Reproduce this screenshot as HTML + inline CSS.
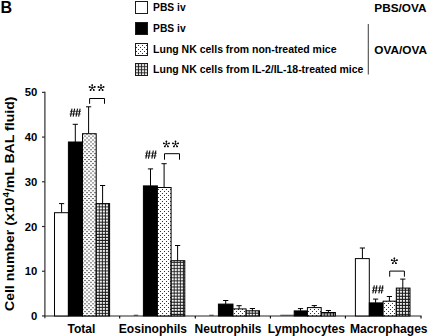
<!DOCTYPE html>
<html><head><meta charset="utf-8"><style>
html,body{margin:0;padding:0;background:#fff;width:430px;height:336px;overflow:hidden}
svg{display:block}
text{font-family:"Liberation Sans",sans-serif;font-weight:bold;fill:#000}
</style></head><body>
<svg width="430" height="336" viewBox="0 0 430 336">
<defs>
<pattern id="dots" patternUnits="userSpaceOnUse" width="4" height="3.9" x="0" y="3.0">
<rect width="4" height="4" fill="#fff"/>
<ellipse cx="1" cy="0.5" rx="0.95" ry="0.75" fill="#555"/>
<ellipse cx="3" cy="2.45" rx="0.95" ry="0.75" fill="#555"/>
</pattern>
<pattern id="dotsB" patternUnits="userSpaceOnUse" width="4" height="4" x="0" y="0">
<rect width="4" height="4" fill="#fff"/>
<rect x="0" y="3" width="1" height="1" fill="#333"/>
<rect x="2" y="1" width="1" height="1" fill="#333"/>
</pattern>
<pattern id="grid0" patternUnits="userSpaceOnUse" width="3.08" height="3.05" x="95.80" y="-0.80"><rect width="3.08" height="3.05" fill="#1a1a1a"/><rect x="0.85" y="0.8" width="2.1" height="2.0" fill="#fff"/></pattern>
<pattern id="grid1" patternUnits="userSpaceOnUse" width="3.08" height="3.05" x="170.70" y="0.00"><rect width="3.08" height="3.05" fill="#1a1a1a"/><rect x="0.85" y="0.8" width="2.1" height="2.0" fill="#fff"/></pattern>
<pattern id="grid2" patternUnits="userSpaceOnUse" width="3.08" height="3.05" x="245.70" y="1.80"><rect width="3.08" height="3.05" fill="#1a1a1a"/><rect x="0.85" y="0.8" width="2.1" height="2.0" fill="#fff"/></pattern>
<pattern id="grid3" patternUnits="userSpaceOnUse" width="3.08" height="3.05" x="320.80" y="2.50"><rect width="3.08" height="3.05" fill="#1a1a1a"/><rect x="0.85" y="0.8" width="2.1" height="2.0" fill="#fff"/></pattern>
<pattern id="grid4" patternUnits="userSpaceOnUse" width="3.08" height="3.05" x="395.90" y="3.20"><rect width="3.08" height="3.05" fill="#1a1a1a"/><rect x="0.85" y="0.8" width="2.1" height="2.0" fill="#fff"/></pattern>
</defs>
<text x="0.6" y="13.4" font-size="16.1">B</text>
<defs><pattern id="gridL" patternUnits="userSpaceOnUse" width="3.08" height="3.05" x="135.1" y="63.4"><rect width="3.08" height="3.05" fill="#1a1a1a"/><rect x="0.85" y="0.8" width="2.1" height="2.0" fill="#fff"/></pattern></defs>
<rect x="135.5" y="1.5" width="12" height="12" fill="#fff" stroke="#1a1a1a" stroke-width="1"/>
<text x="153.1" y="10.8" font-size="10.0" textLength="32.5" lengthAdjust="spacingAndGlyphs">PBS iv</text>
<rect x="135.5" y="22.5" width="12" height="12" fill="#000" stroke="#1a1a1a" stroke-width="1"/>
<text x="153.1" y="31.9" font-size="10.0" textLength="32.5" lengthAdjust="spacingAndGlyphs">PBS iv</text>
<rect x="135.5" y="43.5" width="12" height="12" fill="url(#dotsB)" stroke="#1a1a1a" stroke-width="1"/>
<text x="153.1" y="52.9" font-size="10.0" textLength="183.4" lengthAdjust="spacingAndGlyphs">Lung NK cells from non-treated mice</text>
<rect x="135.5" y="63.5" width="12" height="12" fill="url(#gridL)" stroke="#1a1a1a" stroke-width="1"/>
<text x="153.1" y="73.1" font-size="10.0" textLength="210.3" lengthAdjust="spacingAndGlyphs">Lung NK cells from IL-2/IL-18-treated mice</text>
<text x="374.3" y="12.2" font-size="11.8">PBS/OVA</text>
<text x="374.3" y="54.2" font-size="11.8">OVA/OVA</text>
<line x1="368.3" y1="24" x2="368.3" y2="74.4" stroke="#444" stroke-width="1.05"/>
<line x1="44.9" y1="91.8" x2="44.9" y2="318.34999999999997" stroke="#262626" stroke-width="1.15"/>
<line x1="44.4" y1="315.95" x2="421.5" y2="315.95" stroke="#262626" stroke-width="1.15"/>
<line x1="42" y1="315.95" x2="44.9" y2="315.95" stroke="#262626" stroke-width="1.15"/>
<text x="37.3" y="320.05" font-size="11.3" text-anchor="end">0</text>
<line x1="42" y1="271.23" x2="44.9" y2="271.23" stroke="#262626" stroke-width="1.15"/>
<text x="37.3" y="275.33" font-size="11.3" text-anchor="end">10</text>
<line x1="42" y1="226.51" x2="44.9" y2="226.51" stroke="#262626" stroke-width="1.15"/>
<text x="37.3" y="230.61" font-size="11.3" text-anchor="end">20</text>
<line x1="42" y1="181.79" x2="44.9" y2="181.79" stroke="#262626" stroke-width="1.15"/>
<text x="37.3" y="185.89" font-size="11.3" text-anchor="end">30</text>
<line x1="42" y1="137.07" x2="44.9" y2="137.07" stroke="#262626" stroke-width="1.15"/>
<text x="37.3" y="141.17" font-size="11.3" text-anchor="end">40</text>
<line x1="42" y1="92.35" x2="44.9" y2="92.35" stroke="#262626" stroke-width="1.15"/>
<text x="37.3" y="96.45" font-size="11.3" text-anchor="end">50</text>
<line x1="119.7" y1="315.95" x2="119.7" y2="318.55" stroke="#000" stroke-width="1.1"/>
<line x1="195.3" y1="315.95" x2="195.3" y2="318.55" stroke="#000" stroke-width="1.1"/>
<line x1="270.4" y1="315.95" x2="270.4" y2="318.55" stroke="#000" stroke-width="1.1"/>
<line x1="345.4" y1="315.95" x2="345.4" y2="318.55" stroke="#000" stroke-width="1.1"/>
<line x1="421.0" y1="315.95" x2="421.0" y2="318.55" stroke="#000" stroke-width="1.1"/>
<line x1="61.6" y1="212.7" x2="61.6" y2="203.6" stroke="#000" stroke-width="1"/>
<line x1="59.00" y1="203.6" x2="64.20" y2="203.6" stroke="#000" stroke-width="1"/>
<rect x="54.50" y="212.70" width="13.90" height="103.25" fill="#fff" stroke="#000" stroke-width="1"/>
<line x1="75.3" y1="142.0" x2="75.3" y2="124.3" stroke="#000" stroke-width="1"/>
<line x1="72.70" y1="124.3" x2="77.90" y2="124.3" stroke="#000" stroke-width="1"/>
<rect x="68.40" y="142.00" width="14.10" height="173.95" fill="#000" stroke="#000" stroke-width="1"/>
<line x1="88.6" y1="133.7" x2="88.6" y2="106.8" stroke="#000" stroke-width="1"/>
<line x1="86.00" y1="106.8" x2="91.20" y2="106.8" stroke="#000" stroke-width="1"/>
<rect x="82.50" y="133.70" width="13.70" height="182.25" fill="url(#dots)" stroke="#000" stroke-width="1"/>
<line x1="102.6" y1="203.6" x2="102.6" y2="185.5" stroke="#000" stroke-width="1"/>
<line x1="100.00" y1="185.5" x2="105.20" y2="185.5" stroke="#000" stroke-width="1"/>
<rect x="96.20" y="203.60" width="13.40" height="112.35" fill="url(#grid0)" stroke="#000" stroke-width="1"/>
<line x1="133.8" y1="315.2" x2="138.2" y2="315.2" stroke="#000" stroke-width="0.9" opacity="0.75"/>
<line x1="150.5" y1="185.9" x2="150.5" y2="168.9" stroke="#000" stroke-width="1"/>
<line x1="147.90" y1="168.9" x2="153.10" y2="168.9" stroke="#000" stroke-width="1"/>
<rect x="143.40" y="185.90" width="14.00" height="130.05" fill="#000" stroke="#000" stroke-width="1"/>
<line x1="164.1" y1="187.5" x2="164.1" y2="163.7" stroke="#000" stroke-width="1"/>
<line x1="161.50" y1="163.7" x2="166.70" y2="163.7" stroke="#000" stroke-width="1"/>
<rect x="157.40" y="187.50" width="13.70" height="128.45" fill="url(#dotsB)" stroke="#000" stroke-width="1"/>
<line x1="177.6" y1="260.7" x2="177.6" y2="245.5" stroke="#000" stroke-width="1"/>
<line x1="175.00" y1="245.5" x2="180.20" y2="245.5" stroke="#000" stroke-width="1"/>
<rect x="171.10" y="260.70" width="13.70" height="55.25" fill="url(#grid1)" stroke="#000" stroke-width="1"/>
<line x1="209.3" y1="315.2" x2="213.7" y2="315.2" stroke="#000" stroke-width="0.9" opacity="0.75"/>
<line x1="225.7" y1="304.1" x2="225.7" y2="300.5" stroke="#000" stroke-width="1"/>
<line x1="223.10" y1="300.5" x2="228.30" y2="300.5" stroke="#000" stroke-width="1"/>
<rect x="218.40" y="304.10" width="14.60" height="11.85" fill="#000" stroke="#000" stroke-width="1"/>
<line x1="239.1" y1="308.9" x2="239.1" y2="305.7" stroke="#000" stroke-width="1"/>
<line x1="236.50" y1="305.7" x2="241.70" y2="305.7" stroke="#000" stroke-width="1"/>
<rect x="233.00" y="308.90" width="13.10" height="7.05" fill="url(#dotsB)" stroke="#000" stroke-width="1"/>
<line x1="252.4" y1="310.8" x2="252.4" y2="308.5" stroke="#000" stroke-width="1"/>
<line x1="249.80" y1="308.5" x2="255.00" y2="308.5" stroke="#000" stroke-width="1"/>
<rect x="246.10" y="310.80" width="13.40" height="5.15" fill="url(#grid2)" stroke="#000" stroke-width="1"/>
<line x1="280.30" y1="315.2" x2="294.20" y2="315.2" stroke="#000" stroke-width="0.9" opacity="0.7"/>
<line x1="300.5" y1="310.9" x2="300.5" y2="308.6" stroke="#000" stroke-width="1"/>
<line x1="297.90" y1="308.6" x2="303.10" y2="308.6" stroke="#000" stroke-width="1"/>
<rect x="294.20" y="310.90" width="13.20" height="5.05" fill="#000" stroke="#000" stroke-width="1"/>
<line x1="314.3" y1="307.6" x2="314.3" y2="305.6" stroke="#000" stroke-width="1"/>
<line x1="311.70" y1="305.6" x2="316.90" y2="305.6" stroke="#000" stroke-width="1"/>
<rect x="307.40" y="307.60" width="13.80" height="8.35" fill="url(#dotsB)" stroke="#000" stroke-width="1"/>
<line x1="328.4" y1="312.5" x2="328.4" y2="310.5" stroke="#000" stroke-width="1"/>
<line x1="325.80" y1="310.5" x2="331.00" y2="310.5" stroke="#000" stroke-width="1"/>
<rect x="321.20" y="312.50" width="14.20" height="3.45" fill="url(#grid3)" stroke="#000" stroke-width="1"/>
<line x1="362.4" y1="258.6" x2="362.4" y2="248.0" stroke="#000" stroke-width="1"/>
<line x1="359.80" y1="248.0" x2="365.00" y2="248.0" stroke="#000" stroke-width="1"/>
<rect x="355.40" y="258.60" width="13.90" height="57.35" fill="#fff" stroke="#000" stroke-width="1"/>
<line x1="375.6" y1="302.9" x2="375.6" y2="299.1" stroke="#000" stroke-width="1"/>
<line x1="373.00" y1="299.1" x2="378.20" y2="299.1" stroke="#000" stroke-width="1"/>
<rect x="369.30" y="302.90" width="13.80" height="13.05" fill="#000" stroke="#000" stroke-width="1"/>
<line x1="389.4" y1="301.2" x2="389.4" y2="296.5" stroke="#000" stroke-width="1"/>
<line x1="386.80" y1="296.5" x2="392.00" y2="296.5" stroke="#000" stroke-width="1"/>
<rect x="383.10" y="301.20" width="13.20" height="14.75" fill="url(#dotsB)" stroke="#000" stroke-width="1"/>
<line x1="402.8" y1="288.1" x2="402.8" y2="279.1" stroke="#000" stroke-width="1"/>
<line x1="400.20" y1="279.1" x2="405.40" y2="279.1" stroke="#000" stroke-width="1"/>
<rect x="396.30" y="288.10" width="13.70" height="27.85" fill="url(#grid4)" stroke="#000" stroke-width="1"/>
<text x="67.5" y="332.5" font-size="12.05">Total</text>
<text x="118.8" y="332.5" font-size="12.05">Eosinophils</text>
<text x="194.6" y="332.5" font-size="12.05">Neutrophils</text>
<text x="267.8" y="332.5" font-size="12.05">Lymphocytes</text>
<text x="349.9" y="332.5" font-size="12.05">Macrophages</text>
<path d="M72.00 108.70 L70.55 116.70 M74.60 108.70 L73.15 116.70 M77.50 108.70 L76.05 116.70 M80.10 108.70 L78.65 116.70 " stroke="#000" stroke-width="1.05" fill="none"/>
<path d="M70.00 111.34 H75.50 M69.60 113.98 H75.10 M75.50 111.34 H81.00 M75.10 113.98 H80.60 " stroke="#222" stroke-width="0.85" fill="none"/>
<path d="M92.20 87.80 L92.20 84.95 M92.20 87.80 L94.91 86.92 M92.20 87.80 L93.88 90.11 M92.20 87.80 L90.52 90.11 M92.20 87.80 L89.49 86.92 " stroke="#000" stroke-width="0.75" stroke-linecap="round" fill="none"/>
<circle cx="92.20" cy="85.10" r="0.9"/>
<circle cx="94.77" cy="86.97" r="0.9"/>
<circle cx="93.79" cy="89.98" r="0.9"/>
<circle cx="90.61" cy="89.98" r="0.9"/>
<circle cx="89.63" cy="86.97" r="0.9"/>
<path d="M101.00 87.80 L101.00 84.95 M101.00 87.80 L103.71 86.92 M101.00 87.80 L102.68 90.11 M101.00 87.80 L99.32 90.11 M101.00 87.80 L98.29 86.92 " stroke="#000" stroke-width="0.75" stroke-linecap="round" fill="none"/>
<circle cx="101.00" cy="85.10" r="0.9"/>
<circle cx="103.57" cy="86.97" r="0.9"/>
<circle cx="102.59" cy="89.98" r="0.9"/>
<circle cx="99.41" cy="89.98" r="0.9"/>
<circle cx="98.43" cy="86.97" r="0.9"/>
<path d="M89.6 103.8 V98.5 H104.5 V103.8" fill="none" stroke="#000" stroke-width="1"/>
<path d="M147.30 150.50 L145.85 158.60 M149.90 150.50 L148.45 158.60 M153.30 150.50 L151.85 158.60 M155.90 150.50 L154.45 158.60 " stroke="#000" stroke-width="1.05" fill="none"/>
<path d="M145.30 153.17 H150.80 M144.90 155.85 H150.40 M151.30 153.17 H156.80 M150.90 155.85 H156.40 " stroke="#222" stroke-width="0.85" fill="none"/>
<path d="M166.40 144.20 L166.40 141.35 M166.40 144.20 L169.11 143.32 M166.40 144.20 L168.08 146.51 M166.40 144.20 L164.72 146.51 M166.40 144.20 L163.69 143.32 " stroke="#000" stroke-width="0.75" stroke-linecap="round" fill="none"/>
<circle cx="166.40" cy="141.50" r="0.9"/>
<circle cx="168.97" cy="143.37" r="0.9"/>
<circle cx="167.99" cy="146.38" r="0.9"/>
<circle cx="164.81" cy="146.38" r="0.9"/>
<circle cx="163.83" cy="143.37" r="0.9"/>
<path d="M175.50 144.20 L175.50 141.35 M175.50 144.20 L178.21 143.32 M175.50 144.20 L177.18 146.51 M175.50 144.20 L173.82 146.51 M175.50 144.20 L172.79 143.32 " stroke="#000" stroke-width="0.75" stroke-linecap="round" fill="none"/>
<circle cx="175.50" cy="141.50" r="0.9"/>
<circle cx="178.07" cy="143.37" r="0.9"/>
<circle cx="177.09" cy="146.38" r="0.9"/>
<circle cx="173.91" cy="146.38" r="0.9"/>
<circle cx="172.93" cy="143.37" r="0.9"/>
<path d="M164.5 159.7 V153.7 H179.5 V159.7" fill="none" stroke="#000" stroke-width="1"/>
<path d="M374.30 285.40 L372.85 293.30 M376.90 285.40 L375.45 293.30 M380.30 285.40 L378.85 293.30 M382.90 285.40 L381.45 293.30 " stroke="#000" stroke-width="1.05" fill="none"/>
<path d="M372.30 288.01 H377.80 M371.90 290.61 H377.40 M378.30 288.01 H383.80 M377.90 290.61 H383.40 " stroke="#222" stroke-width="0.85" fill="none"/>
<path d="M394.35 261.00 L394.35 258.15 M394.35 261.00 L397.06 260.12 M394.35 261.00 L396.03 263.31 M394.35 261.00 L392.67 263.31 M394.35 261.00 L391.64 260.12 " stroke="#000" stroke-width="0.75" stroke-linecap="round" fill="none"/>
<circle cx="394.35" cy="258.30" r="0.9"/>
<circle cx="396.92" cy="260.17" r="0.9"/>
<circle cx="395.94" cy="263.18" r="0.9"/>
<circle cx="392.76" cy="263.18" r="0.9"/>
<circle cx="391.78" cy="260.17" r="0.9"/>
<path d="M389.7 276.7 V271.1 H404.4 V276.7" fill="none" stroke="#000" stroke-width="1"/>
<text transform="translate(13.7,203.8) rotate(-90) scale(1.075,1)" font-size="13.1" text-anchor="middle">Cell number (x10<tspan font-size="9" dy="-5.2">4</tspan><tspan dy="5.2">/mL BAL fluid)</tspan></text>
</svg></body></html>
